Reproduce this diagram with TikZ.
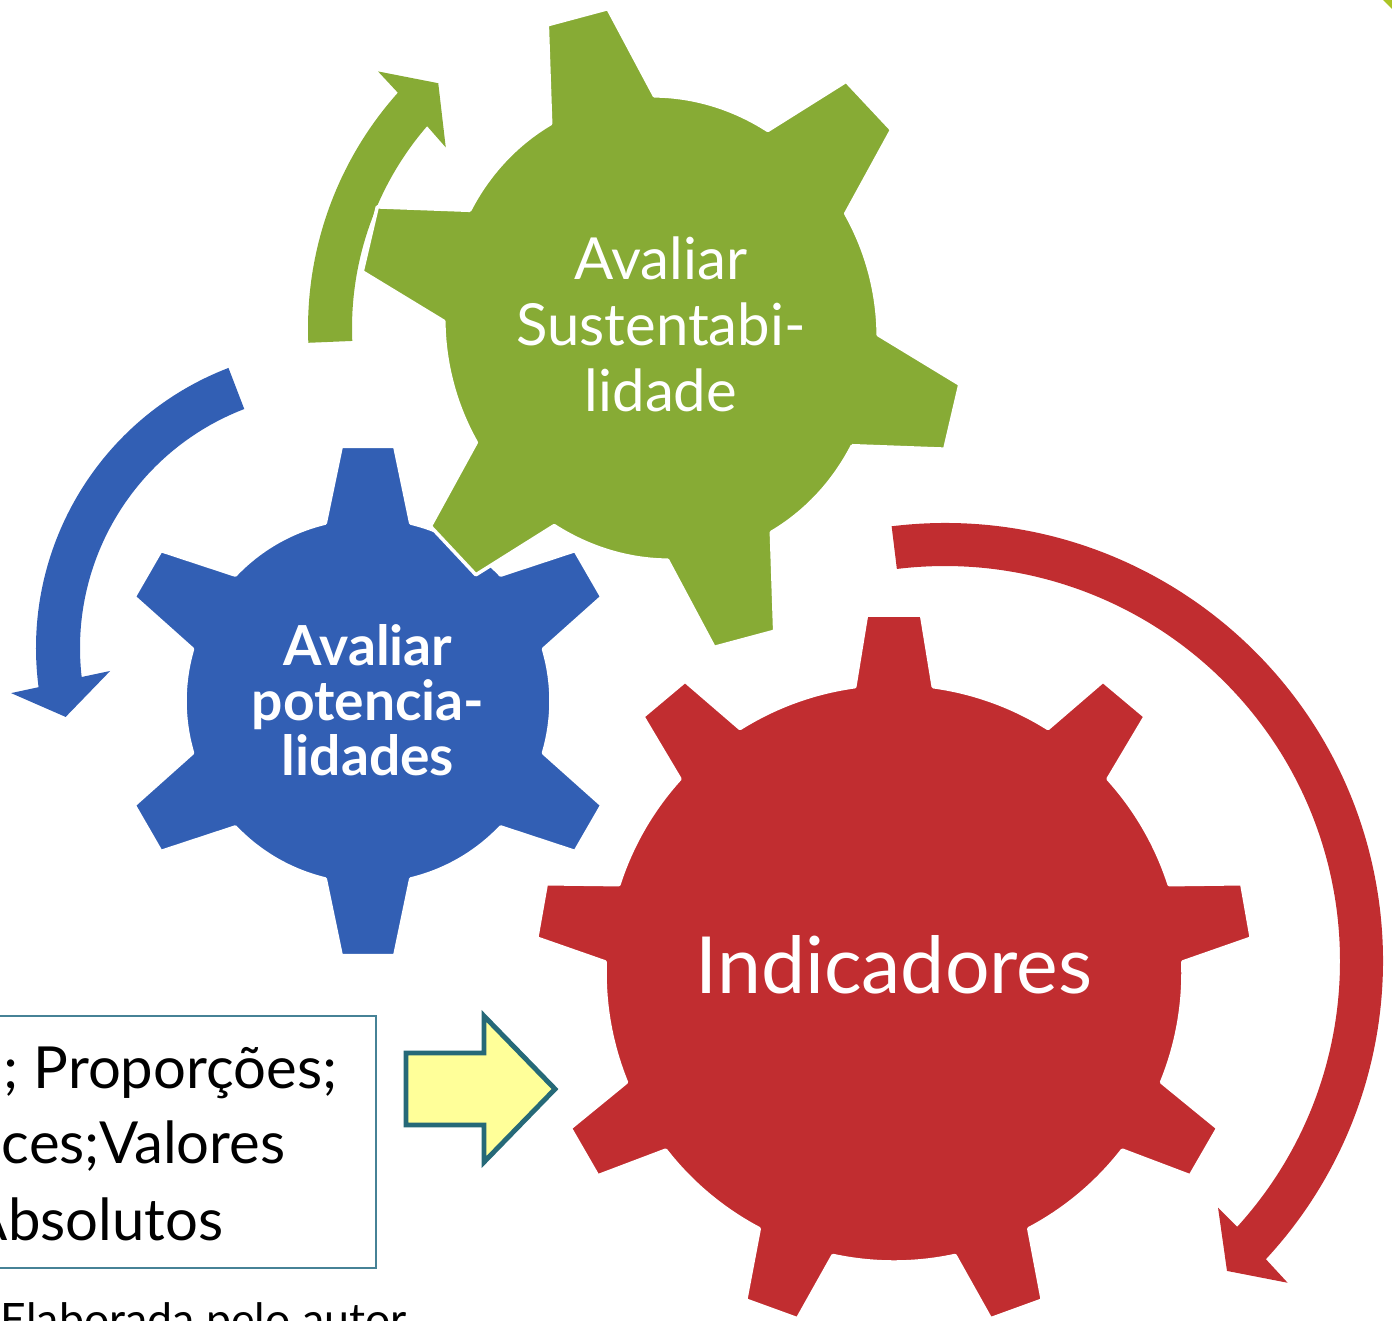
\documentclass[tikz,border=0pt]{standalone}
\usepackage{fontspec}
\setmainfont{Lato}
\usepackage{tikz}

\definecolor{gearblue}{RGB}{50,95,180}
\definecolor{geargreen}{RGB}{135,171,53}
\definecolor{gearred}{RGB}{193,45,48}
\definecolor{arrowfill}{RGB}{255,255,153}
\definecolor{arrowline}{RGB}{38,105,120}
\definecolor{boxline}{RGB}{70,130,150}

\begin{document}
\begin{tikzpicture}[x=0.01cm, y=-0.01cm,
	gear/.style={draw=white, line width=1pt, line join=round},
	gearlabel/.style={text=white, align=center, inner sep=0pt},
	boxlabel/.style={anchor=base east, inner sep=0pt, font=\fontsize{16.5}{18}\selectfont}]
	\useasboundingbox (0,0) rectangle (1392,1320);
	\clip (0,0) rectangle (1392,1320);

	% curved arrows, behind the gears
	\begin{scope}[shift={(661,328)}, y=0.01cm]
		\fill[geargreen] (182.4:353) arc[start angle=182.4, end angle=138.2, radius=353]
			-- (137.8:382) -- (132.3:331) -- (140:281) -- (139.2:309)
			arc[start angle=139.2, end angle=182.4, radius=309] -- cycle;
	\end{scope}
	\begin{scope}[shift={(336,648)}, y=0.01cm]
		\fill[gearblue] (111:300) arc[start angle=111, end angle=187.5, radius=300]
			-- (187.9:328) -- (194.3:279) -- (185.8:227) -- (186.5:256)
			arc[start angle=186.5, end angle=111, radius=256] -- cycle;
	\end{scope}
	\begin{scope}[shift={(945,961)}, y=0.01cm]
		\fill[gearred] (97:438) arc[start angle=97, end angle=-42.9, radius=438]
			-- (-43.2:470) -- (-47.7:419) -- (-42.1:368) -- (-42.3:395)
			arc[start angle=-42.3, end angle=97, radius=395] -- cycle;
	\end{scope}

	% gears
	\foreach \cx/\cy/\rot/\sx/\n/\R/\r/\ht/\hb/\col in {
		368/701/90/1/6/256/183/6/13.5/gearblue,
		661/328/105/1.08/6/300/216/6/14.4/geargreen,
		894/973/90/1/9/359/289/4.4/7.8/gearred}
	{
		\begin{scope}[shift={(\cx,\cy)}, y=0.01cm, rotate=\rot, xscale=\sx]
			\filldraw[gear, fill=\col] (-\hb:\r) \foreach \k in {1,...,\n}{
				-- ({360/\n*(\k-1)-\hb}:\r) -- ({360/\n*(\k-1)-\ht}:\R)
				-- ({360/\n*(\k-1)+\ht}:\R) -- ({360/\n*(\k-1)+\hb}:\r)
				arc[start angle={360/\n*(\k-1)+\hb}, end angle={360/\n*\k-\hb}, radius=\r]} -- cycle;
		\end{scope}
	}

	\node[gearlabel, font=\fontsize{16.5}{18.8}\selectfont] (sust) at (661,324) {Avaliar\\Sustentabi-\\lidade};
	\node[gearlabel, font=\fontsize{15.7}{15.6}\selectfont\bfseries] (pot) at (368,700) {Avaliar\\potencia-\\lidades};
	\node[gearlabel, anchor=base, font=\fontsize{22.4}{26}\selectfont] (ind) at (894,993) {Indicadores};

	% block arrow and text box
	\filldraw[fill=arrowfill, draw=arrowline, line width=1.4pt, line join=miter]
		(406,1053) -- (484,1053) -- (484,1016) -- (555,1089) -- (484,1162) -- (484,1125) -- (406,1125) -- cycle;
	\draw[boxline, line width=0.5pt] (-10,1016) rectangle (376,1268);
	\node[boxlabel] (line1) at (338,1088) {; Proporções;};
	\node[boxlabel] (line2) at (286,1163) {ces;Valores};
	\node[boxlabel] (line3) at (224,1240) {Absolutos};
	\node[anchor=base west, inner sep=0pt, font=\fontsize{12.7}{15}\selectfont] (fonte) at (0,1335) {Elaborada pelo autor};

	\fill[geargreen!70!yellow] (1383,0) -- (1392,0) -- (1392,9) -- cycle;
\end{tikzpicture}
\end{document}
